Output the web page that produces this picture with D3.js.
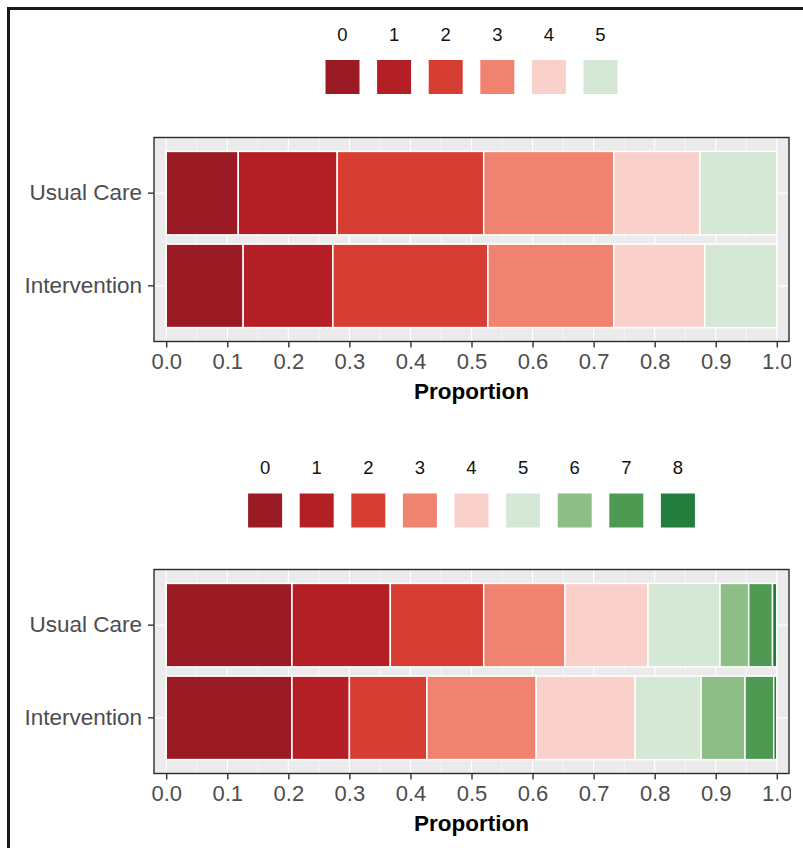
<!DOCTYPE html>
<html lang="en">
    <head>
        <meta charset="utf-8">
        <title>Stacked proportions</title>
        <script type="text/javascript" src="https://cdn.jsdelivr.net/npm/d3@7"></script>
        <style>
            body { margin: 0; background: #fff; }
            text { font-family: "Liberation Sans", Arial, sans-serif; }
        </style>
    </head>
    <body>
        <script type="text/javascript">

            //Width and height
            var w = 803;
            var h = 848;

            //Groups on the y axis
            var groups = ["Usual Care", "Intervention"];

            //Upper chart: response levels and proportions
            var levelsTop = ["0", "1", "2", "3", "4", "5"];
            var usualTop = [0.118, 0.162, 0.240, 0.213, 0.141, 0.126];
            var interventionTop = [0.126, 0.147, 0.254, 0.206, 0.149, 0.118];

            //Lower chart: response levels and proportions
            var levelsBottom = ["0", "1", "2", "3", "4", "5", "6", "7", "8"];
            var usualBottom = [0.206, 0.161, 0.153, 0.133, 0.136, 0.118, 0.047, 0.039, 0.007];
            var interventionBottom = [0.206, 0.094, 0.127, 0.179, 0.162, 0.108, 0.072, 0.047, 0.005];

            //Axis ticks
            var xTicks = [0, 0.1, 0.2, 0.3, 0.4, 0.5, 0.6, 0.7, 0.8, 0.9, 1.0];

            //Colours for levels 0..8
            var palette = ["#9b1b25", "#b41f26", "#d63e33", "#f08270", "#f9d1ca",
                           "#d5e8d5", "#8cbe86", "#4f9a53", "#237d3c"];

            var svg = d3.select("body")
                        .append("svg")
                        .attr("width", w)
                        .attr("height", h);

            //Clip like the cropped original
            svg.append("clipPath")
                .attr("id", "crop")
                .append("rect")
                .attr("x", 0).attr("y", 0)
                .attr("width", 791).attr("height", h);

            var root = svg.append("g").attr("clip-path", "url(#crop)");

            //Shared x scale (ggplot style 2% expansion)
            var xScale = d3.scaleLinear()
                        .domain([-0.02, 1.02])
                        .range([154, 789]);

            var drawChart = function(levels, usual, intervention, legendBase, swatchTop, panelTop) {

                var panelH = 204;
                var g = root.append("g");

                var yScale = d3.scaleBand()
                            .domain(groups)
                            .range([panelTop, panelTop + panelH])
                            .paddingInner(0.1)
                            .paddingOuter(0.15);

                //Rows for the stack
                var rows = [usual, intervention].map(function(vals, i) {
                    var r = { group: groups[i] };
                    levels.forEach(function(l, j) { r[l] = vals[j]; });
                    return r;
                });
                var series = d3.stack().keys(levels)(rows);

                //Legend
                var step = 51.6, size = 34;
                var legendX = d3.scaleLinear()
                            .domain([0, levels.length - 1])
                            .range([471.5 - step * (levels.length - 1) / 2,
                                    471.5 + step * (levels.length - 1) / 2]);

                g.selectAll(".legtext")
                    .data(levels)
                    .enter()
                    .append("text")
                    .attr("x", function(d, i) { return legendX(i); })
                    .attr("y", legendBase)
                    .attr("text-anchor", "middle")
                    .attr("font-size", "18.5px")
                    .attr("fill", "#111")
                    .text(function(d) { return d; });

                g.selectAll(".legkey")
                    .data(levels)
                    .enter()
                    .append("rect")
                    .attr("x", function(d, i) { return legendX(i) - size / 2; })
                    .attr("y", swatchTop)
                    .attr("width", size)
                    .attr("height", size)
                    .attr("fill", function(d, i) { return palette[i]; });

                //Panel background
                g.append("rect")
                    .attr("x", xScale.range()[0])
                    .attr("y", panelTop)
                    .attr("width", xScale.range()[1] - xScale.range()[0])
                    .attr("height", panelH)
                    .attr("fill", "#ebebeb");

                //Minor grid
                g.selectAll(".minor")
                    .data(d3.range(0.05, 1.0, 0.1))
                    .enter()
                    .append("line")
                    .attr("x1", function(d) { return xScale(d); })
                    .attr("x2", function(d) { return xScale(d); })
                    .attr("y1", panelTop)
                    .attr("y2", panelTop + panelH)
                    .attr("stroke", "#fff")
                    .attr("stroke-width", 0.6);

                //Major grid
                g.selectAll(".major")
                    .data(xTicks)
                    .enter()
                    .append("line")
                    .attr("x1", function(d) { return xScale(d); })
                    .attr("x2", function(d) { return xScale(d); })
                    .attr("y1", panelTop)
                    .attr("y2", panelTop + panelH)
                    .attr("stroke", "#fff")
                    .attr("stroke-width", 1.2);

                g.selectAll(".hgrid")
                    .data(groups)
                    .enter()
                    .append("line")
                    .attr("x1", xScale.range()[0])
                    .attr("x2", xScale.range()[1])
                    .attr("y1", function(d) { return yScale(d) + yScale.bandwidth() / 2; })
                    .attr("y2", function(d) { return yScale(d) + yScale.bandwidth() / 2; })
                    .attr("stroke", "#fff")
                    .attr("stroke-width", 1.2);

                //Bars
                g.selectAll(".series")
                    .data(series)
                    .enter()
                    .append("g")
                    .attr("fill", function(d, i) { return palette[i]; })
                    .selectAll("rect")
                    .data(function(d) { return d; })
                    .enter()
                    .append("rect")
                    .attr("x", function(d) { return xScale(d[0]); })
                    .attr("width", function(d) { return xScale(d[1]) - xScale(d[0]); })
                    .attr("y", function(d) { return yScale(d.data.group); })
                    .attr("height", yScale.bandwidth())
                    .attr("stroke", "#fff")
                    .attr("stroke-width", 1.5);

                //Panel border
                g.append("rect")
                    .attr("x", xScale.range()[0])
                    .attr("y", panelTop)
                    .attr("width", xScale.range()[1] - xScale.range()[0])
                    .attr("height", panelH)
                    .attr("fill", "none")
                    .attr("stroke", "#2b2b2b")
                    .attr("stroke-width", 1.4);

                //X axis
                var xAxis = g.append("g")
                    .attr("transform", "translate(0," + (panelTop + panelH) + ")")
                    .call(d3.axisBottom(xScale)
                        .tickValues(xTicks)
                        .tickFormat(d3.format(".1f"))
                        .tickSize(6)
                        .tickPadding(6));
                xAxis.select(".domain").remove();
                xAxis.selectAll("line").attr("stroke", "#333").attr("stroke-width", 1.4);
                xAxis.selectAll("text")
                    .attr("font-size", "22px")
                    .attr("font-family", "'Liberation Sans', Arial, sans-serif")
                    .attr("fill", "#4d4d4d");

                //Y axis
                var yAxis = g.append("g")
                    .attr("transform", "translate(" + xScale.range()[0] + ",0)")
                    .call(d3.axisLeft(yScale).tickSize(6).tickPadding(6));
                yAxis.select(".domain").remove();
                yAxis.selectAll("line").attr("stroke", "#333").attr("stroke-width", 1.4);
                yAxis.selectAll("text")
                    .attr("font-size", "22.5px")
                    .attr("font-family", "'Liberation Sans', Arial, sans-serif")
                    .attr("fill", "#4d4d4d");

                //Axis title
                g.append("text")
                    .attr("x", (xScale.range()[0] + xScale.range()[1]) / 2)
                    .attr("y", panelTop + panelH + 57)
                    .attr("text-anchor", "middle")
                    .attr("font-size", "22.5px")
                    .attr("font-weight", "bold")
                    .attr("fill", "#000")
                    .text("Proportion");
            };

            drawChart(levelsTop, usualTop, interventionTop, 41, 60, 137.5);
            drawChart(levelsBottom, usualBottom, interventionBottom, 473.5, 493.5, 569.5);

            //Outer frame
            svg.append("line")
                .attr("x1", 8.5).attr("x2", 8.5)
                .attr("y1", 7).attr("y2", h)
                .attr("stroke", "#1a1a1a").attr("stroke-width", 3);
            svg.append("line")
                .attr("x1", 7).attr("x2", w)
                .attr("y1", 8.5).attr("y2", 8.5)
                .attr("stroke", "#1a1a1a").attr("stroke-width", 3);

        </script>
    </body>
</html>
